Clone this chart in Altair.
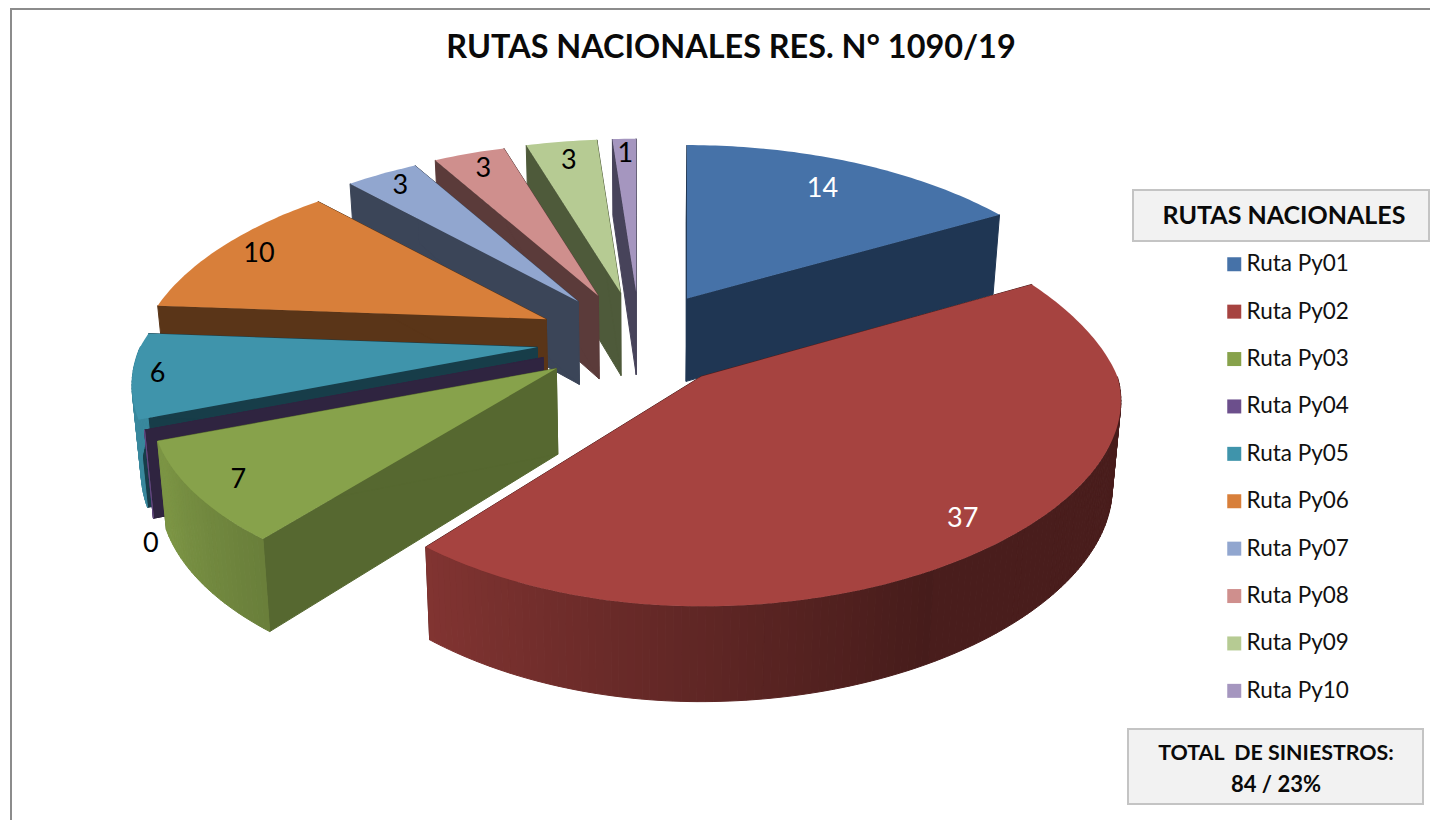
import math
import altair as alt
import pandas as pd

# ---- data
routes = ["Ruta Py01", "Ruta Py02", "Ruta Py03", "Ruta Py04", "Ruta Py05",
          "Ruta Py06", "Ruta Py07", "Ruta Py08", "Ruta Py09", "Ruta Py10"]
values = [14, 37, 7, 0, 6, 10, 3, 3, 3, 1]
top_colors = ["#4672a8", "#a64340", "#87a24b", "#6c4f8c", "#3f94ab",
              "#d87f3a", "#91a6cf", "#cf8f8d", "#b6cb93", "#a596bf"]
wall_colors = ["#1f3653", "#4f1e1c", "#566830", "#2f2440", "#173d49",
               "#5a3518", "#3b4558", "#5b3b3a", "#4e5a3a", "#47435a"]
label_colors = ["white", "white", "black", "black", "black",
                "black", "black", "black", "black", "black"]
title_text = "RUTAS NACIONALES RES. N° 1090/19"
legend_title_text = "RUTAS NACIONALES"
total_lines = ["TOTAL \u00a0DE SINIESTROS:", "84 / 23%"]

# ---- 3-D look: parameters of the drawing, not data
CX, CY = 640, 340          # pie centre
EX_R, EX_L, EY = 94, 104, 48   # explosion distance
R_L, RT, K = 397, 184, 0.2     # left radius, vertical radius, perspective
radius_right = [406, 416, 411, 411, 411, 411, 411, 411, 411, 411]
label_radius = [0.78, 0.88, 0.89, 0.985, 0.94, 0.88, 0.89, 0.87, 0.85, 0.88]
label_drop = [0, 1, 3, 115, 0, 0, 0, 0, 0, 0]
persp_x_back = [0.25, 0.18, 0.25, 0.25, 0.25, 0.25, 0.25, 0.25, 0.25, 0.25]
persp_x_front = [K, 0.13, K, K, K, K, K, K, K, K]
persp_y_back = [K, 0.0, K, K, K, K, K, K, K, K]
FONT = "Lato"
M = 8  # page margin


def surface(deg, f, s):
    th = math.radians(deg)
    u, v = math.sin(th) * f, math.cos(th) * f
    px = 1 + (s["kxb"] if v > 0 else s["kxf"]) * v
    py = 1 + (s["kyb"] if v > 0 else K) * v
    radius = s["rr"] if u > 0 else R_L
    return (s["ax"] + radius * u / px, s["ay"] - RT * v / py)


def lower(pt):
    x, y = pt
    return (x - 0.018 * (x - CX), y + 71 + 0.04 * y)


def shade(hex_color, k):
    r, g, b = [int(hex_color[i:i + 2], 16) for i in (1, 3, 5)]
    return "#%02x%02x%02x" % (int(r * k), int(g * k), int(b * k))


def rim_factor(deg):
    if deg < 150:
        return 0.44
    return min(0.92, 0.42 + (deg - 150) / 100 * 0.53)


def feature(points, fill, name):
    ring = [[x - M, y - M] for x, y in points]
    ring.append(ring[0])
    return {"type": "Feature",
            "geometry": {"type": "Polygon", "coordinates": [ring]},
            "properties": {"fill": fill, "route": name}}


total = sum(values)
start = 0.0
slices = []
for i, name in enumerate(routes):
    end = start + values[i] / total * 360
    mid = (start + end) / 2
    th = math.radians(mid)
    ex = EX_R if math.sin(th) > 0 else EX_L
    slices.append(dict(name=name, val=values[i], top=top_colors[i], wall=wall_colors[i],
                       lcol=label_colors[i], lr=label_radius[i], ld=label_drop[i],
                       kxb=persp_x_back[i], kxf=persp_x_front[i], kyb=persp_y_back[i],
                       rr=radius_right[i], a0=start, a1=end, mid=mid,
                       ax=CX + ex * math.sin(th), ay=CY - EY * math.cos(th)))
    start = end

walls, tops, labels = [], [], []
for s in sorted(slices, key=lambda d: -math.cos(math.radians(d["mid"]))):
    apex = (s["ax"], s["ay"])
    for ang in (s["a0"], s["a1"]):
        e = surface(ang, 1, s)
        walls.append(feature([apex, e, lower(e), lower(apex)], s["wall"], s["name"]))
    n = max(1, int(s["a1"] - s["a0"]))
    angs = [s["a0"] + (s["a1"] - s["a0"]) * i / n for i in range(n + 1)]
    for a, b in zip(angs, angs[1:]):
        if math.cos(math.radians((a + b) / 2)) < 0.0:
            p, q = surface(a, 1, s), surface(b, 1, s)
            walls.append(feature([p, q, lower(q), lower(p)],
                                 shade(s["top"], rim_factor((a + b) / 2)), s["name"]))
    tops.append(feature([apex] + [surface(a, 1, s) for a in angs], s["top"], s["name"]))

for s in slices:
    x, y = surface(s["mid"], s["lr"], s)
    labels.append({"x": x - M, "y": y + s["ld"] - M, "t": str(s["val"]), "c": s["lcol"]})

proj = alt.Projection(type="identity", scale=1, translate=[0, 0])

frame_top = alt.Chart(pd.DataFrame({"a": [0]})).mark_rule(color="#8c8c8c", strokeWidth=2).encode(
    x=alt.value(2), x2=alt.value(1422), y=alt.value(1))
frame_left = alt.Chart(pd.DataFrame({"a": [0]})).mark_rule(color="#8c8c8c", strokeWidth=2).encode(
    x=alt.value(3), y=alt.value(0), y2=alt.value(812))

wall_layer = alt.Chart(alt.Data(values=walls)).mark_geoshape(strokeWidth=1).encode(
    fill=alt.Fill("properties.fill:N", scale=None),
    stroke=alt.Stroke("properties.fill:N", scale=None),
).project(**proj.to_dict())

top_layer = alt.Chart(alt.Data(values=tops)).mark_geoshape(strokeWidth=0).encode(
    fill=alt.Fill("properties.route:N",
                  scale=alt.Scale(domain=routes, range=top_colors),
                  legend=alt.Legend(orient="none", legendX=1215, legendY=245, title=None,
                                    symbolType="square", symbolSize=196, symbolStrokeWidth=0,
                                    labelFont=FONT, labelFontSize=22.5, labelColor="#111111",
                                    labelOffset=1, rowPadding=24.4, padding=0, labelLimit=200)),
).project(**proj.to_dict())

label_layer = alt.Chart(pd.DataFrame(labels)).mark_text(font=FONT, fontSize=27).encode(
    x=alt.X("x:Q", scale=None, axis=None), y=alt.Y("y:Q", scale=None, axis=None),
    text="t:N", color=alt.Color("c:N", scale=None))


def box(x0, y0, x1, y1):
    return alt.Chart(pd.DataFrame({"a": [0]})).mark_rect(
        fill="#f2f2f2", stroke="#c4c4c4", strokeWidth=2).encode(
        x=alt.value(x0 - M), x2=alt.value(x1 - M), y=alt.value(y0 - M), y2=alt.value(y1 - M))


def text(t, x, y, size):
    return alt.Chart(pd.DataFrame({"t": [t]})).mark_text(
        font=FONT, fontSize=size, fontWeight="bold", color="#0a0a0a").encode(
        x=alt.value(x - M), y=alt.value(y - M), text="t:N")


chart = alt.layer(
    frame_top, frame_left, wall_layer, top_layer, label_layer,
    text(title_text, 731, 47.5, 32.4),
    box(1133, 190, 1429, 241), text(legend_title_text, 1284, 216, 25),
    box(1128, 729, 1423, 804), text(total_lines[0], 1276, 754, 21.4), text(total_lines[1], 1276, 785, 22),
).properties(width=1422, height=812, padding=0,
             autosize=alt.AutoSizeParams(type="none")).configure_view(stroke=None)

chart.save("out.html", embed_options={"renderer": "svg", "actions": False})
